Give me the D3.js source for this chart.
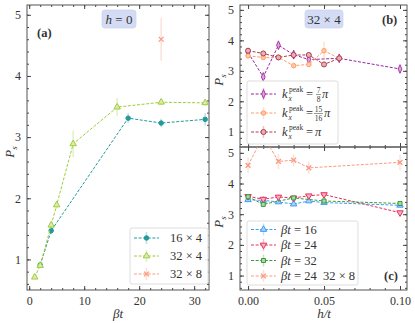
<!DOCTYPE html>
<html>
<head>
<meta charset="UTF-8" />
<script src="https://d3js.org/d3.v7.min.js"></script>
<style>
  body { margin: 0; background: #fff; }
  svg text { font-family: "Liberation Serif", "DejaVu Serif", serif !important; fill: #333; }
  .tick line { stroke: #444; }
  .domain { stroke: none; }
</style>
</head>
<body>
<svg id="chart" width="415" height="323"></svg>
<script>
// ---- data: panel (a), P_s vs beta t at h = 0
const sizeNames = ["16 × 4", "32 × 4", "32 × 8"];
const bt16 = [2, 4, 18, 24, 32];
const ps16 = [0.91, 1.47, 3.31, 3.23, 3.29];
const er16 = [0.05, 0.06, 0.08, 0.07, 0.1];
const bt32 = [1, 2, 4, 5, 8, 16, 24, 32];
const ps32 = [0.71, 0.9, 1.56, 1.89, 2.89, 3.49, 3.57, 3.56];
const er32 = [0.03, 0.04, 0.05, 0.06, 0.22, 0.15, 0.05, 0.05];
const bt328 = [24];
const ps328 = [4.6];
const er328 = [0.35];

// ---- panel (b), 32 x 4, different k_x peaks
const h7 = [0, 0.01, 0.02, 0.03, 0.04, 0.06, 0.10];
const ps7 = [3.6, 2.8, 3.84, 3.53, 3.37, 3.41, 3.06];
const er7 = [0.06, 0.08, 0.08, 0.15, 0.1, 0.05, 0.05];
const h15 = [0, 0.01, 0.02, 0.03, 0.04, 0.05, 0.06];
const ps15 = [3.49, 3.44, 3.44, 3.17, 3.21, 3.66, 3.41];
const er15 = [0.06, 0.06, 0.06, 0.06, 0.08, 0.3, 0.06];
const hPi = [0, 0.01, 0.02, 0.03, 0.04, 0.05, 0.06];
const psPi = [3.66, 3.57, 3.44, 3.52, 3.52, 3.21, 3.41];
const erPi = [0.05, 0.05, 0.05, 0.05, 0.05, 0.06, 0.05];

// ---- panel (c), different beta t
const hB = [0, 0.01, 0.02, 0.03, 0.04, 0.05, 0.10];
const ps16c = [3.47, 3.45, 3.40, 3.33, 3.43, 3.38, 3.29];
const er16c = [0.06, 0.06, 0.05, 0.06, 0.05, 0.05, 0.06];
const ps24c = [3.58, 3.49, 3.56, 3.53, 3.6, 3.64, 3.05];
const er24c = [0.06, 0.06, 0.08, 0.06, 0.06, 0.06, 0.06];
const hG = [0, 0.01, 0.03, 0.05, 0.10];
const ps32c = [3.57, 3.32, 3.53, 3.43, 3.35];
const er32c = [0.05, 0.06, 0.05, 0.05, 0.05];
const hS = [0, 0.01, 0.02, 0.03, 0.04, 0.10];
const ps248 = [4.59, 5.55, 4.72, 4.76, 4.51, 4.69];
const er248 = [0.25, 0.4, 0.25, 0.2, 0.2, 0.25];

const yTicks = [1, 2, 3, 4, 5];
const serif = "Liberation Serif";

const svg = d3.select("#chart");
const defs = svg.append("defs");

function symbolPath(kind, size) {
  if (kind === "x") return "M-2.4,-2.4L2.4,2.4M-2.4,2.4L2.4,-2.4";
  const types = { circle: d3.symbolCircle, tri: d3.symbolTriangle, diamond: d3.symbolDiamond,
    square: d3.symbolSquare, triDown: d3.symbolTriangle };
  return d3.symbol(types[kind], size)();
}
function markerTransform(kind) {
  if (kind === "triDown") return " rotate(180)";
  if (kind === "diamond") return " scale(0.75,1)";
  return "";
}

function drawPanel(o) {
  const g = svg.append("g");
  const x = d3.scaleLinear().domain(o.xd).range([o.left, o.right]);
  const y = d3.scaleLinear().domain(o.yd).range([o.bottom, o.top]);
  const id = "clip" + o.name;
  defs.append("clipPath").attr("id", id).append("rect")
    .attr("x", o.left).attr("y", o.top).attr("width", o.right - o.left).attr("height", o.bottom - o.top);

  const addAxis = (axis, tr, showLabels) => {
    const a = g.append("g").attr("transform", tr).call(axis);
    if (!showLabels) a.selectAll("text").remove();
    return a;
  };
  // minor ticks
  const xMinor = d3.range(o.xMinor[0], o.xMinor[1] + 1e-9, o.xMinor[2]);
  const yMinor = d3.range(0.6, 5.1, 0.2);
  addAxis(d3.axisBottom(x).tickValues(xMinor).tickSize(-2).tickFormat(""), `translate(0,${o.bottom})`, false);
  addAxis(d3.axisTop(x).tickValues(xMinor).tickSize(-2).tickFormat(""), `translate(0,${o.top})`, false);
  addAxis(d3.axisLeft(y).tickValues(yMinor).tickSize(-2).tickFormat(""), `translate(${o.left},0)`, false);
  addAxis(d3.axisRight(y).tickValues(yMinor).tickSize(-2).tickFormat(""), `translate(${o.right},0)`, false);
  // major ticks
  addAxis(d3.axisBottom(x).tickValues(o.xTicks).tickSize(-4).tickPadding(6).tickFormat(o.xFmt),
    `translate(0,${o.bottom})`, o.xLabels);
  addAxis(d3.axisTop(x).tickValues(o.xTicks).tickSize(-4).tickFormat(""), `translate(0,${o.top})`, false);
  addAxis(d3.axisLeft(y).tickValues(yTicks).tickSize(-4).tickPadding(6).tickFormat(d3.format("d")),
    `translate(${o.left},0)`, true);
  addAxis(d3.axisRight(y).tickValues(yTicks).tickSize(-4).tickFormat(""), `translate(${o.right},0)`, false);
  g.selectAll(".tick text").attr("font-size", 12).attr("font-family", serif).attr("fill", "#444");

  // frame
  g.append("rect").attr("x", o.left).attr("y", o.top).attr("width", o.right - o.left)
    .attr("height", o.bottom - o.top).attr("fill", "none").attr("stroke", "#555").attr("stroke-width", 1);

  const data = g.append("g").attr("clip-path", `url(#${id})`);
  o.series.forEach(s => {
    const pts = s.xs.map((v, i) => ({ x: v, y: s.ys[i], e: s.es[i] }));
    data.append("path").datum(pts)
      .attr("d", d3.line().x(d => x(d.x)).y(d => y(d.y)))
      .attr("fill", "none").attr("stroke", s.color).attr("stroke-width", 1)
      .attr("stroke-dasharray", "3,1.6");
    data.selectAll(null).data(pts).enter().append("line")
      .attr("x1", d => x(d.x)).attr("x2", d => x(d.x))
      .attr("y1", d => y(d.y - d.e)).attr("y2", d => y(d.y + d.e))
      .attr("stroke", s.color).attr("stroke-opacity", 0.3).attr("stroke-width", 1.5);
    data.selectAll(null).data(pts).enter().append("path")
      .attr("d", symbolPath(s.marker, s.msize || 18))
      .attr("transform", d => `translate(${x(d.x)},${y(d.y)})` + markerTransform(s.marker))
      .attr("fill", s.marker === "x" ? "none" : s.fill)
      .attr("stroke", s.color).attr("stroke-width", s.marker === "x" ? 1.3 : 1);
  });

  // legend
  const L = o.legend;
  g.append("rect").attr("x", L.x).attr("y", L.y).attr("width", L.w).attr("height", L.h).attr("rx", 2)
    .attr("fill", "#fff").attr("fill-opacity", 0.85).attr("stroke", "#ddd").attr("stroke-width", 1);
  o.series.forEach((s, i) => {
    const cy = L.y + L.first + i * L.step;
    const lx0 = L.x + 4, lx1 = L.x + 29, mx = L.x + 16.5;
    g.append("line").attr("x1", lx0).attr("x2", lx1).attr("y1", cy).attr("y2", cy)
      .attr("stroke", s.color).attr("stroke-width", 1).attr("stroke-dasharray", "3,1.6");
    g.append("line").attr("x1", mx).attr("x2", mx).attr("y1", cy - 6).attr("y2", cy + 6)
      .attr("stroke", s.color).attr("stroke-opacity", 0.3).attr("stroke-width", 1.5);
    g.append("path").attr("d", symbolPath(s.marker, s.msize || 18))
      .attr("transform", `translate(${mx},${cy})` + markerTransform(s.marker))
      .attr("fill", s.marker === "x" ? "none" : s.fill).attr("stroke", s.color)
      .attr("stroke-width", s.marker === "x" ? 1.3 : 1);
    s.label(g, L.x + L.tx, cy + 4);
  });
}

function txt(g, x, y, size, str, italic, anchor) {
  return g.append("text").attr("x", x).attr("y", y).attr("font-size", size).attr("font-family", serif)
    .attr("font-style", italic ? "italic" : null).attr("text-anchor", anchor || null).attr("fill", "#333").text(str);
}
const plain = str => (g, x, y) => txt(g, x, y, 12.5, str);
const kLabel = frac => (g, x, y) => {
  txt(g, x, y, 12.5, "k", true);
  txt(g, x + 7, y - 6, 7.5, "peak");
  txt(g, x + 6.5, y + 3, 7.5, "x", true);
  txt(g, x + 24, y, 12.5, "=");
  if (frac) {
    const cx = x + 36.5;
    txt(g, cx, y - 5, 7.5, frac[0], false, "middle");
    txt(g, cx, y + 3.5, 7.5, frac[1], false, "middle");
    g.append("line").attr("x1", cx - frac[1].length * 2 - 0.5).attr("x2", cx + frac[1].length * 2 + 0.5)
      .attr("y1", y - 3.5).attr("y2", y - 3.5).attr("stroke", "#333").attr("stroke-width", 0.5);
    txt(g, cx + frac[1].length * 2 + 1.5, y, 12.5, "π", true);
  } else {
    txt(g, x + 33, y, 12.5, "π", true);
  }
};
const btLabel = (v, extra) => (g, x, y) => {
  txt(g, x, y, 12.5, "βt", true);
  txt(g, x + 13, y, 12.5, "= " + v);
  if (extra) txt(g, x + 42, y, 12.5, extra);
};

drawPanel({
  name: "a", left: 27, right: 209, top: 5, bottom: 290,
  xd: [-0.4, 32.7], yd: [0.5, 5.16], xTicks: [0, 10, 20, 30], xMinor: [0, 32, 2], xLabels: true,
  xFmt: d3.format("d"),
  series: [
    { xs: bt16, ys: ps16, es: er16, color: "#23999b", fill: "#23999b", marker: "circle", msize: 16, label: plain(sizeNames[0]) },
    { xs: bt32, ys: ps32, es: er32, color: "#9fcc3b", fill: "#d9edae", marker: "tri", msize: 18, label: plain(sizeNames[1]) },
    { xs: bt328, ys: ps328, es: er328, color: "#fa9a80", fill: "#fa9a80", marker: "x", msize: 16, label: plain(sizeNames[2]) }
  ],
  legend: { x: 130, y: 228, w: 78, h: 56, first: 10, step: 18, tx: 40 }
});

drawPanel({
  name: "b", left: 240, right: 407, top: 5, bottom: 147,
  xd: [-0.0053, 0.1046], yd: [0.5, 5.16], xTicks: [0, 0.05, 0.1], xMinor: [0, 0.1, 0.01], xLabels: false,
  xFmt: d3.format(".2f"),
  series: [
    { xs: h7, ys: ps7, es: er7, color: "#a0239f", fill: "#dca6dc", marker: "diamond", msize: 22, label: kLabel(["7", "8"]) },
    { xs: h15, ys: ps15, es: er15, color: "#ff9e66", fill: "#ffc8a8", marker: "circle", msize: 16, label: kLabel(["15", "16"]) },
    { xs: hPi, ys: psPi, es: erPi, color: "#b13c4c", fill: "#e2b2b8", marker: "circle", msize: 20, label: kLabel(null) }
  ],
  legend: { x: 247, y: 81, w: 91, h: 63, first: 13, step: 19, tx: 35 }
});

drawPanel({
  name: "c", left: 240, right: 407, top: 147, bottom: 290,
  xd: [-0.0053, 0.1046], yd: [0.53, 5.19], xTicks: [0, 0.05, 0.1], xMinor: [0, 0.1, 0.01], xLabels: true,
  xFmt: d3.format(".2f"),
  series: [
    { xs: hB, ys: ps16c, es: er16c, color: "#3d9cf5", fill: "#a9d2fb", marker: "tri", msize: 18, label: btLabel(16) },
    { xs: hB, ys: ps24c, es: er24c, color: "#e8305c", fill: "#f5b0c0", marker: "triDown", msize: 18, label: btLabel(24) },
    { xs: hG, ys: ps32c, es: er32c, color: "#3b9a3b", fill: "#a9d8a9", marker: "square", msize: 16, label: btLabel(32) },
    { xs: hS, ys: ps248, es: er248, color: "#fa9a80", fill: "#fa9a80", marker: "x", msize: 16, label: btLabel(24, "32 × 8") }
  ],
  legend: { x: 247, y: 221, w: 111, h: 64, first: 8.5, step: 15.5, tx: 34 }
});

// panel annotations
function tagBox(cx, cy, w, build) {
  svg.append("rect").attr("x", cx - w / 2).attr("y", cy - 9).attr("width", w).attr("height", 18).attr("rx", 3)
    .attr("fill", "#d4dcf5").attr("stroke", "#c4cdea").attr("stroke-width", 0.6);
  build(cx, cy + 4.5);
}
tagBox(119, 19, 34, (x, y) => {
  const t = txt(svg, x, y, 13, "", false, "middle");
  t.append("tspan").attr("font-style", "italic").text("h");
  t.append("tspan").text(" = 0");
});
tagBox(324, 19, 38, (x, y) => txt(svg, x, y, 13, "32 × 4", false, "middle"));

const panelTag = (x, y, s) => txt(svg, x, y, 12.5, s).attr("font-weight", "bold");
panelTag(37, 37, "(a)");
panelTag(382, 24, "(b)");
panelTag(384, 280, "(c)");

// axis labels
function psLabel(x, y) {
  const g = svg.append("g").attr("transform", `translate(${x},${y}) rotate(-90)`);
  const t = txt(g, 0, 0, 13, "", false, "middle");
  t.append("tspan").attr("font-style", "italic").text("P");
  t.append("tspan").attr("font-style", "italic").attr("font-size", 9).attr("dy", 3).text("s");
}
psLabel(14, 152);
psLabel(223, 80);
psLabel(223, 222);

txt(svg, 118, 318, 13, "βt", true, "middle");
txt(svg, 324, 318, 13, "h/t", true, "middle");
</script>
</body>
</html>
